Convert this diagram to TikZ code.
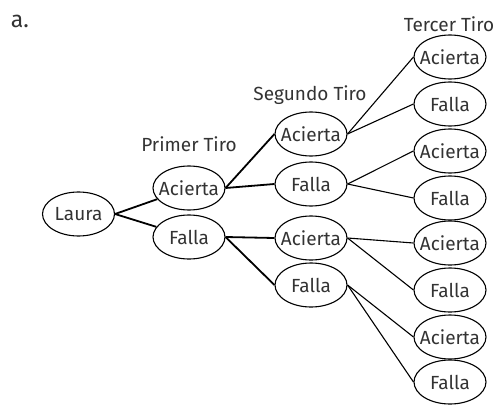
\documentclass[tikz,border=0pt]{standalone}
\usepackage{fontspec}
\setmainfont{Fira Sans}
\usetikzlibrary{shapes.geometric}
\definecolor{txt}{HTML}{333333}
\newcommand\zw[1]{\makebox[0pt]{#1}}
\begin{document}
\begin{tikzpicture}[x=1pt,y=-1pt,
  oval/.style={draw, ellipse, line width=1.1pt, minimum width=72pt, minimum height=44pt, inner sep=0pt, font=\fontsize{19}{22}\selectfont, text=txt},
  lbl/.style={font=\fontsize{19}{22}\selectfont, text=txt, inner sep=0pt},
  thk/.style={line width=1.8pt},
  thn/.style={line width=1.1pt}]
\useasboundingbox (0,0) rectangle (497,404);
\node[lbl, font=\fontsize{23}{26}\selectfont] (a) at (20,21) {a.};
\node[oval] (L) at (78.5,214) {\zw{Laura}};
\node[lbl] (t1) at (189,144) {Primer Tiro};
\node[lbl] (t2) at (310,95) {Segundo Tiro};
\node[lbl] (t3) at (449,24) {Tercer Tiro};
\node[oval] (A1) at (189,188) {\zw{Acierta}};
\node[oval] (F1) at (189,237) {\zw{Falla}};
\node[oval] (AA) at (311,134) {\zw{Acierta}};
\node[oval] (AF) at (311,184) {\zw{Falla}};
\node[oval] (FA) at (311,238) {\zw{Acierta}};
\node[oval] (FF) at (311,285) {\zw{Falla}};
\node[oval] (c1) at (450,57) {\zw{Acierta}};
\node[oval] (c2) at (450,104) {\zw{Falla}};
\node[oval] (c3) at (450,151) {\zw{Acierta}};
\node[oval] (c4) at (450,198) {\zw{Falla}};
\node[oval] (c5) at (450,243) {\zw{Acierta}};
\node[oval] (c6) at (450,290) {\zw{Falla}};
\node[oval] (c7) at (450,337) {\zw{Acierta}};
\node[oval] (c8) at (450,382) {\zw{Falla}};
\draw[thk] (L.east) -- (A1);
\draw[thk] (L.east) -- (F1);
\draw[thk] (A1.east) -- (AA.west);
\draw[thk] (A1.east) -- (AF.west);
\draw[thk] (F1.east) -- (FA.west);
\draw[thk] (F1.east) -- (FF.west);
\draw[thn] (AA.east) -- (c1.west);
\draw[thn] (AA.east) -- (c2.west);
\draw[thn] (AF.east) -- (c3.west);
\draw[thn] (AF.east) -- (c4.west);
\draw[thn] (FA.east) -- (c5.west);
\draw[thn] (FA.east) -- (c6.west);
\draw[thn] (FF.east) -- (c7.west);
\draw[thn] (FF.east) -- (c8.west);
\end{tikzpicture}
\end{document}
